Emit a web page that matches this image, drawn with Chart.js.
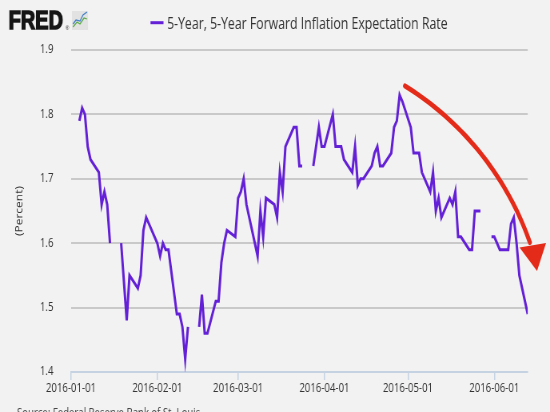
<!DOCTYPE html>
<html>
<head>
<meta charset="utf-8">
<title>5-Year, 5-Year Forward Inflation Expectation Rate</title>
<script src="https://cdn.jsdelivr.net/npm/chart.js@4.4.0/dist/chart.umd.min.js"></script>
<style>
  html, body { margin: 0; padding: 0; background: #f2f2f2; overflow: hidden; }
  #wrap { width: 688px; height: 412px; transform: scaleX(0.79942); transform-origin: 0 0; }
  canvas { display: block; }
</style>
</head>
<body>
<div id="wrap"><canvas id="chart" width="688" height="412"></canvas></div>
<script>
// the reference picture is squeezed sideways, so draw wide and scale the canvas down
const SX = 550 / 688;
const px = (x) => x / SX;

const seriesName = "5-Year, 5-Year Forward Inflation Expectation Rate";
const lineColor = "#6420d6";

const dates = [
  "2016-01-04", "2016-01-05", "2016-01-06", "2016-01-07", "2016-01-08",
  "2016-01-11", "2016-01-12", "2016-01-13", "2016-01-14", "2016-01-15",
  "2016-01-18", "2016-01-19", "2016-01-20", "2016-01-21", "2016-01-22",
  "2016-01-25", "2016-01-26", "2016-01-27", "2016-01-28", "2016-01-29",
  "2016-02-01", "2016-02-02", "2016-02-03", "2016-02-04", "2016-02-05",
  "2016-02-08", "2016-02-09", "2016-02-10", "2016-02-11", "2016-02-12",
  "2016-02-15", "2016-02-16", "2016-02-17", "2016-02-18", "2016-02-19",
  "2016-02-22", "2016-02-23", "2016-02-24", "2016-02-25", "2016-02-26",
  "2016-02-29", "2016-03-01", "2016-03-02", "2016-03-03", "2016-03-04",
  "2016-03-07", "2016-03-08", "2016-03-09", "2016-03-10", "2016-03-11",
  "2016-03-14", "2016-03-15", "2016-03-16", "2016-03-17", "2016-03-18",
  "2016-03-21", "2016-03-22", "2016-03-23", "2016-03-24", "2016-03-25",
  "2016-03-28", "2016-03-29", "2016-03-30", "2016-03-31", "2016-04-01",
  "2016-04-04", "2016-04-05", "2016-04-06", "2016-04-07", "2016-04-08",
  "2016-04-11", "2016-04-12", "2016-04-13", "2016-04-14", "2016-04-15",
  "2016-04-18", "2016-04-19", "2016-04-20", "2016-04-21", "2016-04-22",
  "2016-04-25", "2016-04-26", "2016-04-27", "2016-04-28", "2016-04-29",
  "2016-05-02", "2016-05-03", "2016-05-04", "2016-05-05", "2016-05-06",
  "2016-05-09", "2016-05-10", "2016-05-11", "2016-05-12", "2016-05-13",
  "2016-05-16", "2016-05-17", "2016-05-18", "2016-05-19", "2016-05-20",
  "2016-05-23", "2016-05-24", "2016-05-25", "2016-05-26", "2016-05-27",
  "2016-05-30", "2016-05-31", "2016-06-01", "2016-06-02", "2016-06-03",
  "2016-06-06", "2016-06-07", "2016-06-08", "2016-06-09", "2016-06-10",
  "2016-06-13"
];

const rates = [
  1.79, 1.81, 1.80, 1.75, 1.73,
  1.71, 1.66, 1.68, 1.66, 1.60,
  null, 1.60, 1.54, 1.48, 1.55,
  1.53, 1.55, 1.62, 1.64, 1.63,
  1.60, 1.58, 1.60, 1.59, 1.59,
  1.49, 1.49, 1.47, 1.42, 1.47,
  null, 1.47, 1.52, 1.46, 1.46,
  1.51, 1.51, 1.57, 1.60, 1.62,
  1.61, 1.67, 1.68, 1.70, 1.66,
  1.60, 1.58, 1.65, 1.61, 1.67,
  1.66, 1.64, 1.71, 1.68, 1.75,
  1.78, 1.78, 1.72, 1.72, null,
  1.72, 1.75, 1.78, 1.75, 1.75,
  1.80, 1.75, 1.75, 1.75, 1.73,
  1.71, 1.75, 1.69, 1.70, 1.70,
  1.72, 1.74, 1.75, 1.72, 1.72,
  1.74, 1.78, 1.79, 1.83, 1.82,
  1.78, 1.74, 1.74, 1.74, 1.71,
  1.68, 1.71, 1.65, 1.67, 1.64,
  1.67, 1.66, 1.68, 1.61, 1.61,
  1.59, 1.59, 1.65, 1.65, 1.65,
  null, 1.61, 1.61, 1.60, 1.59,
  1.59, 1.63, 1.64, 1.60, 1.55,
  1.49
];

const tickDates = ["2016-01-01", "2016-02-01", "2016-03-01", "2016-04-01", "2016-05-01", "2016-06-01"];
const yTicks = [1.4, 1.5, 1.6, 1.7, 1.8, 1.9];
const firstDay = "2016-01-01";
const lastDay = "2016-06-13";

function dayOf(s) {
  const [y, m, d] = s.split("-").map(Number);
  return (Date.UTC(y, m - 1, d) - Date.UTC(2016, 0, 1)) / 86400000;
}

const points = dates.map((d, i) => ({ x: dayOf(d), y: rates[i] }));
const font = { family: "'Open Sans', sans-serif", size: 12 };

// logo, legend, red arrow and the clipped source line
const decorations = {
  id: "decorations",
  beforeDraw(chart) {
    const ctx = chart.ctx;
    ctx.save();
    ctx.fillStyle = "#f2f2f2";
    ctx.fillRect(0, 0, chart.width, chart.height);
    ctx.restore();
  },
  afterDraw(chart) {
    const ctx = chart.ctx;
    ctx.save();

    // FRED logo
    ctx.fillStyle = "#161616";
    ctx.strokeStyle = "#161616";
    ctx.lineWidth = 1.4;
    ctx.font = "bold 25px 'Liberation Sans', Arial, sans-serif";
    ctx.textBaseline = "alphabetic";
    ctx.fillText("FRED", px(8.5), 29.3);
    ctx.strokeText("FRED", px(8.5), 29.3);
    ctx.font = "6px 'Liberation Sans', sans-serif";
    ctx.fillText("®", px(65.5), 29.5);
    ctx.fillStyle = "#e2e2e2";
    ctx.fillRect(px(72), 11, px(88) - px(72), 19);
    ctx.lineWidth = 1.2;
    ctx.strokeStyle = "#5aa846";
    ctx.beginPath();
    ctx.moveTo(px(73), 27); ctx.lineTo(px(77), 22); ctx.lineTo(px(80), 24);
    ctx.lineTo(px(84), 18); ctx.lineTo(px(87), 19);
    ctx.stroke();
    ctx.strokeStyle = "#3d7cc9";
    ctx.beginPath();
    ctx.moveTo(px(73), 24); ctx.lineTo(px(76), 20); ctx.lineTo(px(80), 21);
    ctx.lineTo(px(83), 15); ctx.lineTo(px(87), 12);
    ctx.stroke();

    // legend
    ctx.strokeStyle = lineColor;
    ctx.lineWidth = 3;
    ctx.beginPath();
    ctx.moveTo(px(150.5), 22.7);
    ctx.lineTo(px(163.5), 22.7);
    ctx.stroke();
    ctx.fillStyle = "#333333";
    ctx.font = "15.4px 'Open Sans', sans-serif";
    ctx.fillText(seriesName, px(167), 28.6);

    // red arrow: circular arc in picture space, then the head
    ctx.strokeStyle = "#e42a18";
    ctx.fillStyle = "#e42a18";
    ctx.lineWidth = 5;
    ctx.lineCap = "round";
    ctx.lineJoin = "round";
    const cx = 245.2, cy = 341.5, r = 301.4;
    const a0 = Math.atan2(86 - cy, 405 - cx);
    const a1 = Math.atan2(243 - cy, 528 - cx);
    ctx.beginPath();
    for (let i = 0; i <= 40; i++) {
      const a = a0 + (a1 - a0) * i / 40;
      const x = px(cx + r * Math.cos(a));
      const y = cy + r * Math.sin(a);
      if (i === 0) ctx.moveTo(x, y); else ctx.lineTo(x, y);
    }
    ctx.stroke();
    ctx.beginPath();
    ctx.moveTo(px(519.5), 247.5);
    ctx.lineTo(px(546), 243);
    ctx.lineTo(px(537), 271);
    ctx.closePath();
    ctx.fill();

    // source line, mostly cut off by the bottom edge
    ctx.fillStyle = "#444444";
    ctx.font = "12px 'Open Sans', sans-serif";
    ctx.fillText("Source: Federal Reserve Bank of St. Louis", px(17), 416.5);

    ctx.restore();
  }
};

new Chart(document.getElementById("chart"), {
  type: "line",
  data: {
    datasets: [{
      label: seriesName,
      data: points,
      borderColor: lineColor,
      borderWidth: 3,
      pointRadius: 0,
      tension: 0,
      spanGaps: false
    }]
  },
  options: {
    responsive: false,
    animation: false,
    layout: { padding: { top: 50, right: 688 - px(527.7), bottom: 0, left: 0 } },
    plugins: {
      legend: { display: false },
      tooltip: { enabled: false }
    },
    scales: {
      x: {
        type: "linear",
        min: dayOf(firstDay),
        max: dayOf(lastDay),
        afterBuildTicks: (scale) => {
          scale.ticks = tickDates.map((d) => ({ value: dayOf(d) }));
        },
        afterFit: (scale) => { scale.height = 40; },
        ticks: {
          autoSkip: false,
          maxRotation: 0,
          padding: 1,
          color: "#333333",
          font: font,
          callback: (v) => tickDates.find((d) => dayOf(d) === v) || ""
        },
        grid: { drawOnChartArea: false, color: "#c4d2e2", lineWidth: 1.5, tickLength: 8 },
        border: { color: "#c4d2e2", width: 2 }
      },
      y: {
        min: yTicks[0],
        max: yTicks[yTicks.length - 1],
        afterBuildTicks: (scale) => {
          scale.ticks = yTicks.map((v) => ({ value: v }));
        },
        afterFit: (scale) => { scale.width = px(71); },
        ticks: {
          padding: 22,
          color: "#333333",
          font: font,
          callback: (v) => v.toFixed(1)
        },
        grid: {
          drawTicks: false,
          lineWidth: 2,
          color: (c) => (c.tick && c.tick.value === yTicks[0] ? "rgba(0,0,0,0)" : "#c9c9c9")
        },
        border: { display: false },
        title: {
          display: true,
          text: "(Percent)",
          color: "#333333",
          font: font,
          padding: { top: 17, bottom: 0 }
        }
      }
    }
  },
  plugins: [decorations]
});
</script>
</body>
</html>
